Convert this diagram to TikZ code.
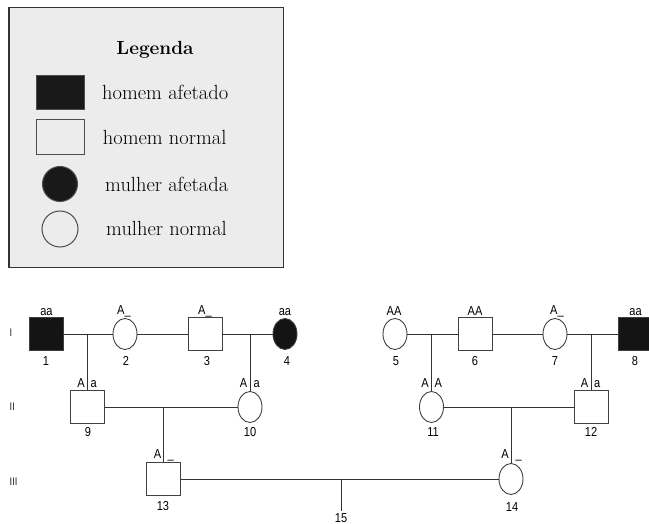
\documentclass[tikz,border=0pt]{standalone}
\usepackage{fontspec}
\usetikzlibrary{shapes.geometric}
\newfontfamily\pedfont[FakeStretch=0.85]{Liberation Sans}
\begin{document}
\begin{tikzpicture}[x=1pt,y=-1pt,
  ln/.style={draw=black!80, line width=0.8pt},
  male/.style={rectangle, draw=black!75, line width=0.9pt, minimum width=34pt, minimum height=33pt, inner sep=0pt},
  female/.style={ellipse, draw=black!75, line width=0.9pt, minimum width=24pt, minimum height=31pt, inner sep=0pt},
  aff/.style={fill=black!92},
  gt/.style={font=\pedfont\fontsize{13}{15}\selectfont, inner sep=0pt, text=black, anchor=base},
  gen/.style={font=\pedfont\fontsize{11}{13}\selectfont, inner sep=0pt, anchor=west, text=black!85},
  leg/.style={font=\fontsize{20.5}{24}\selectfont, anchor=base west, inner sep=0pt, text=black},
  legshape/.style={draw=black!70, line width=1pt, inner sep=0pt},
]
\useasboundingbox (0,0) rectangle (649,524);
% legend
\node[draw=black!80, line width=1.2pt, fill=gray!15, minimum width=274.7pt, minimum height=259.4pt, inner sep=0pt, anchor=north west] (legbox) at (8.3,7.3) {};
\node[font=\bfseries\fontsize{19}{22}\selectfont, anchor=base, inner sep=0pt, text=black] (legt) at (155,55) {Legenda};
\node[legshape, rectangle, fill=black!90, minimum width=48.3pt, minimum height=34pt] (l1) at (60.8,93) {};
\node[legshape, rectangle, minimum width=48.3pt, minimum height=34.7pt] (l2) at (60.8,136.7) {};
\node[legshape, circle, fill=black!90, minimum size=35pt] (l3) at (60,184) {};
\node[legshape, circle, minimum size=36pt] (l4) at (60,229) {};
\node[leg] (t1) at (102,100) {homem afetado};
\node[leg] (t2) at (102.7,145) {homem normal};
\node[leg] (t3) at (105,191.7) {mulher afetada};
\node[leg] (t4) at (106,236) {mulher normal};
% generation labels
\node[gen] (gI) at (9.5,333) {I};
\node[gen] (gII) at (9.5,407) {II};
\node[gen] (gIII) at (9.5,482) {III};
% individuals
\node[male,aff] (n1) at (46,334) {};
\node[female] (n2) at (125,334) {};
\node[male] (n3) at (205,334) {};
\node[female,aff] (n4) at (285,334) {};
\node[female] (n5) at (395,334) {};
\node[male] (n6) at (475,334) {};
\node[female] (n7) at (555,334) {};
\node[male,aff] (n8) at (635,334) {};
\node[male] (n9) at (87.5,407) {};
\node[female] (n10) at (250,407) {};
\node[female] (n11) at (431.5,407) {};
\node[male] (n12) at (591,407) {};
\node[male] (n13) at (163.5,479) {};
\node[female] (n14) at (511,479) {};
\coordinate (n15) at (341,511);
% couple lines
\draw[ln] (n1) -- (n2);
\draw[ln] (n2) -- (n3);
\draw[ln] (n3) -- (n4);
\draw[ln] (n5) -- (n6);
\draw[ln] (n6) -- (n7);
\draw[ln] (n7) -- (n8);
\draw[ln] (n9) -- (n10);
\draw[ln] (n11) -- (n12);
\draw[ln] (n13) -- (n14);
% descent lines
\draw[ln] (n1 -| n9) -- (n9.north);
\draw[ln] (n3 -| n10) -- (n10.north);
\draw[ln] (n5 -| n11) -- (n11.north);
\draw[ln] (n7 -| n12) -- (n12.north);
\draw[ln] (n9 -| n13) -- (n13.north);
\draw[ln] (n11 -| n14) -- (n14.north);
\draw[ln] (n13 -| n15) -- (n15);
% genotypes generation I
\node[gt] (g1) at (46.5,316) {aa};
\node[gt, anchor=base west] (g2) at (117,315) {A\_};
\node[gt, anchor=base west] (g3) at (198,315) {A\_};
\node[gt] (g4) at (285,316) {aa};
\node[gt] (g5) at (394,316) {AA};
\node[gt] (g6) at (475,316) {AA};
\node[gt, anchor=base west] (g7) at (550,315) {A\_};
\node[gt] (g8) at (635.5,316) {aa};
% genotypes generation II
\node[gt, anchor=base east] (g9a) at (85,387) {A};
\node[gt, anchor=base west] (g9b) at (90.5,387) {a};
\node[gt, anchor=base east] (g10a) at (247.5,387) {A};
\node[gt, anchor=base west] (g10b) at (253.5,387) {a};
\node[gt, anchor=base east] (g11a) at (429,387) {A};
\node[gt, anchor=base west] (g11b) at (434.5,387) {A};
\node[gt, anchor=base east] (g12a) at (588.5,387) {A};
\node[gt, anchor=base west] (g12b) at (594,387) {a};
% genotypes generation III
\node[gt, anchor=base east] (g13a) at (161.5,458) {A};
\node[gt, anchor=base west] (g13b) at (167.5,458) {\_};
\node[gt, anchor=base east] (g14a) at (509,458) {A};
\node[gt, anchor=base west] (g14b) at (515.5,458) {\_};
% numbers
\node[gt] (m1) at (46,365) {1};
\node[gt] (m2) at (126,365) {2};
\node[gt] (m3) at (207,365) {3};
\node[gt] (m4) at (287,365) {4};
\node[gt] (m5) at (396,365) {5};
\node[gt] (m6) at (475,365) {6};
\node[gt] (m7) at (555,365) {7};
\node[gt] (m8) at (635,365) {8};
\node[gt] (m9) at (88,436) {9};
\node[gt] (m10) at (250,436) {10};
\node[gt] (m11) at (433,436) {11};
\node[gt] (m12) at (591,436) {12};
\node[gt] (m13) at (163,510) {13};
\node[gt] (m14) at (512,511) {14};
\node[gt] (m15) at (341,522) {15};
\end{tikzpicture}
\end{document}
